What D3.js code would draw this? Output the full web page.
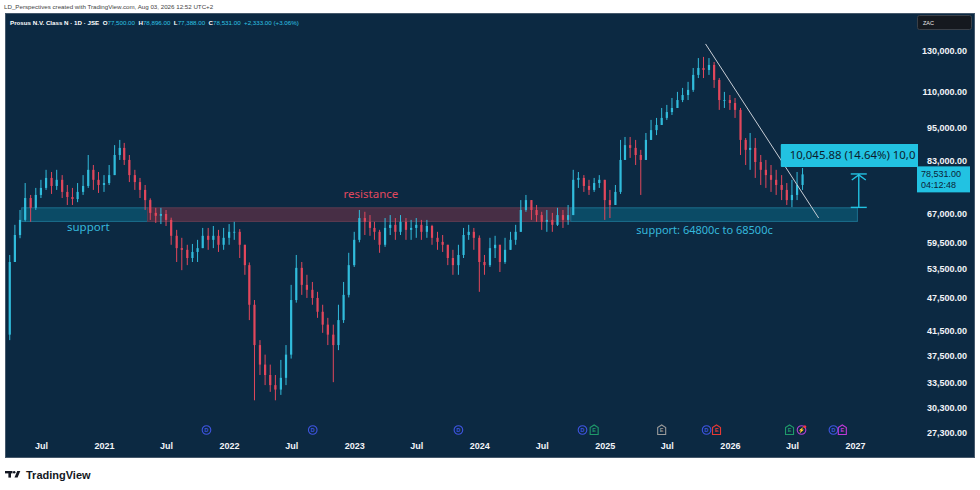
<!DOCTYPE html>
<html lang="en">
<head>
<meta charset="UTF-8">
<title>Prosus N.V. Class N - 1D - JSE</title>
<script src="https://d3js.org/d3.v7.min.js"></script>
<style>
  body { margin: 0; background: #ffffff; }
  svg { display: block; font-family: "Liberation Sans", Arial, sans-serif; }
</style>
</head>
<body>
<svg id="chart" width="980" height="490"></svg>
<script>
// half-month candles, prices in thousands of ZAc
const firstMonth = "2020-04";
const lastMonth = "2026-08";
const lastCandle = "2026-08-01";

const opens = [40.8, 54.9, 61.3, 65.2, 71.3, 68.5, 72.2, 74.3, 77.4, 74.9,
  76.8, 73.1, 71.6, 71.0, 73.1, 74.9, 80.0, 76.8, 75.2, 75.8,
  78.3, 85.0, 87.5, 83.3, 78.3, 76.1, 73.7, 70.7, 67.1, 66.3,
  66.8, 65.2, 61.1, 58.1, 57.7, 55.8, 57.2, 58.1, 61.1, 60.1,
  61.1, 58.9, 60.6, 62.1, 62.1, 58.9, 54.2, 46.1, 39.1, 36.1,
  34.6, 33.2, 32.6, 34.2, 37.6, 47.0, 53.6, 50.0, 49.0, 47.4,
  44.8, 42.5, 40.8, 39.1, 43.3, 48.0, 54.2, 60.1, 65.7, 64.7,
  63.1, 62.1, 58.9, 63.1, 63.9, 62.1, 64.7, 62.6, 63.1, 63.9,
  62.1, 63.6, 60.6, 59.6, 58.9, 55.8, 54.2, 56.5, 61.3, 62.1,
  60.6, 54.9, 54.2, 58.1, 58.9, 54.9, 57.7, 60.1, 62.1, 67.9,
  70.7, 67.9, 66.5, 64.7, 65.2, 63.9, 66.5, 65.2, 66.5, 76.8,
  77.4, 74.9, 73.7, 75.8, 76.8, 70.7, 69.3, 73.1, 83.3, 88.5,
  87.5, 85.0, 83.3, 90.4, 94.1, 96.1, 98.9, 101.3, 103.0, 106.4,
  108.6, 110.9, 117.9, 121.3, 120.3, 122.8, 115.5, 106.4, 106.4, 105.1,
  102.2, 90.4, 86.8, 87.5, 82.6, 80.0, 78.3, 76.8, 75.2, 73.7,
  70.7, 72.2, 75.2];

const highs = [56.5, 63.9, 67.9, 75.8, 72.2, 74.3, 76.8, 80.0, 79.3, 80.0,
  78.3, 75.2, 74.3, 75.8, 78.3, 85.0, 81.6, 79.3, 78.3, 81.6,
  88.5, 90.4, 89.3, 85.0, 80.0, 77.4, 75.2, 71.2, 68.5, 68.5,
  67.9, 65.8, 62.6, 60.6, 58.9, 59.1, 60.1, 63.1, 63.1, 63.6,
  62.6, 63.1, 64.1, 64.7, 62.8, 58.9, 54.8, 47.0, 39.9, 37.6,
  36.1, 34.6, 36.8, 39.1, 50.0, 56.5, 54.9, 52.1, 50.6, 48.6,
  46.1, 43.7, 42.5, 46.1, 50.6, 57.0, 62.1, 67.9, 67.4, 66.5,
  64.7, 62.6, 65.7, 66.5, 65.7, 66.5, 65.7, 65.2, 65.7, 65.2,
  65.2, 63.9, 62.1, 61.3, 58.9, 57.7, 58.9, 63.1, 63.9, 63.1,
  61.2, 56.5, 60.6, 61.1, 58.9, 60.6, 62.1, 63.9, 70.7, 72.2,
  70.7, 69.3, 67.4, 67.9, 67.1, 68.5, 67.9, 69.3, 80.0, 79.3,
  78.3, 76.8, 77.4, 78.3, 76.8, 73.7, 75.2, 90.4, 91.5, 91.5,
  90.4, 86.8, 93.0, 98.1, 98.9, 103.0, 104.3, 107.3, 110.0, 111.8,
  114.6, 121.3, 126.3, 126.9, 126.3, 124.3, 116.4, 110.0, 108.6, 107.3,
  103.0, 91.1, 93.0, 91.1, 85.0, 83.3, 81.6, 80.0, 78.3, 75.8,
  76.8, 79.3, 80.6];

const lows = [39.9, 54.9, 60.5, 64.8, 64.7, 67.9, 71.3, 73.7, 72.5, 73.7,
  71.3, 69.3, 69.3, 70.1, 72.2, 74.3, 73.7, 72.8, 73.1, 75.2,
  78.3, 83.3, 81.6, 76.1, 73.7, 71.3, 67.9, 65.2, 64.4, 64.1,
  63.6, 58.9, 54.9, 53.1, 54.2, 54.9, 54.9, 58.1, 57.7, 58.1,
  57.2, 57.7, 58.9, 60.1, 55.8, 52.1, 43.3, 31.2, 34.6, 33.2,
  32.3, 31.2, 31.9, 33.2, 37.0, 46.5, 48.0, 47.4, 46.1, 43.7,
  41.1, 39.1, 33.6, 38.3, 42.8, 47.5, 53.8, 59.5, 61.3, 61.1,
  60.1, 57.0, 58.4, 61.3, 60.1, 61.3, 60.1, 60.1, 60.6, 60.1,
  60.6, 58.9, 57.7, 57.2, 54.2, 52.1, 52.1, 55.8, 60.1, 57.7,
  48.6, 52.1, 53.8, 55.8, 52.7, 54.5, 57.7, 58.9, 62.1, 67.4,
  65.2, 64.7, 62.6, 62.1, 62.1, 63.6, 63.1, 63.9, 66.5, 74.3,
  73.1, 72.2, 73.1, 74.3, 65.2, 65.7, 69.3, 72.5, 83.3, 84.0,
  81.6, 72.2, 83.3, 90.4, 92.2, 96.1, 98.1, 100.1, 103.0, 105.5,
  106.4, 110.0, 116.4, 116.4, 117.9, 111.8, 102.2, 103.0, 102.2, 98.9,
  85.0, 81.6, 80.0, 77.4, 75.2, 74.3, 73.1, 72.2, 70.7, 69.3,
  68.7, 70.7, 73.7];

const closes = [54.9, 61.3, 65.2, 71.3, 68.5, 72.2, 74.3, 77.4, 74.9, 76.8,
  73.1, 71.6, 71.0, 73.1, 74.9, 80.0, 76.8, 75.2, 75.8, 78.3,
  85.0, 87.5, 83.3, 78.3, 76.1, 73.7, 70.7, 67.1, 66.3, 66.8,
  65.2, 61.1, 58.1, 57.7, 55.8, 57.2, 58.1, 61.1, 60.1, 61.1,
  58.9, 60.6, 62.1, 62.1, 58.9, 54.2, 46.1, 39.1, 36.1, 34.6,
  33.2, 32.6, 34.2, 37.6, 47.0, 53.6, 50.0, 49.0, 47.4, 44.8,
  42.5, 40.8, 39.1, 43.3, 48.0, 54.2, 60.1, 65.7, 64.7, 63.1,
  62.1, 58.9, 63.1, 63.9, 62.1, 64.7, 62.6, 63.1, 63.9, 62.1,
  63.6, 60.6, 59.6, 58.9, 55.8, 54.2, 56.5, 61.3, 62.1, 60.6,
  54.9, 54.2, 58.1, 58.9, 54.9, 57.7, 60.1, 62.1, 67.9, 70.7,
  67.9, 66.5, 64.7, 65.2, 63.9, 66.5, 65.2, 66.5, 76.8, 77.4,
  74.9, 73.7, 75.8, 76.8, 70.7, 69.3, 73.1, 83.3, 88.5, 87.5,
  85.0, 83.3, 90.4, 94.1, 96.1, 98.9, 101.3, 103.0, 106.4, 108.6,
  110.9, 117.9, 121.3, 120.3, 122.8, 115.5, 106.4, 106.4, 105.1, 102.2,
  90.4, 86.8, 87.5, 82.6, 80.0, 78.3, 76.8, 75.2, 73.7, 70.7,
  72.2, 75.2, 78.531];

const priceTicks = [130000, 110000, 95000, 83000, 67000, 59500, 53500, 47500, 41500, 37500, 33500, 30300, 27300];
const timeTicks = ["2020-07-01", "2021-01-01", "2021-07-01", "2022-01-01", "2022-07-01", "2023-01-01",
  "2023-07-01", "2024-01-01", "2024-07-01", "2025-01-01", "2025-07-01", "2026-01-01", "2026-07-01", "2027-01-01"];

// support / resistance band 64800c - 68500c
const zoneLow = 64800, zoneHigh = 68500;
const zoneEdges = ["2020-05-06", "2021-05-08", "2024-09-24", "2027-01-08"];
const zoneKinds = ["support", "resistance", "support"];

const trendDates = ["2025-10-22", "2026-09-17"];
const trendPrices = [133800, 65700];

const measureDate = "2027-01-12";
const measurePrices = [68620, 78666];
// the label runs past the plot edge, only this much of it is visible
const measureText = "10,045.88 (14.64%) 10,0";

const eventDates = ["2021-10-27", "2022-09-02", "2023-11-01", "2024-10-28", "2024-12-01", "2025-06-16",
  "2025-10-25", "2025-11-23", "2026-06-24", "2026-07-29", "2026-10-30", "2026-11-25"];
const eventKinds = ["D", "D", "D", "D", "E", "E", "D", "E", "E", "S", "D", "E"];
const eventColors = ["#3f55e0", "#3f55e0", "#3f55e0", "#3f55e0", "#1f9a6a", "#9a9a9a",
  "#3f55e0", "#e53935", "#1f9a6a", "#b23fd6", "#3f55e0", "#c03ad8"];

const header = [
  ["Prosus N.V. Class N · 1D · JSE  ", "#ffffff"], ["O", "#ffffff"], ["77,500.00  ", "#2ec4e4"],
  ["H", "#ffffff"], ["78,896.00  ", "#2ec4e4"], ["L", "#ffffff"], ["77,388.00  ", "#2ec4e4"],
  ["C", "#ffffff"], ["78,531.00  ", "#2ec4e4"], ["+2,333.00 (+3.06%)", "#2ec4e4"]
];

const parse = d3.utcParse("%Y-%m-%d");
const parseMonth = d3.utcParse("%Y-%m");

const dates = [];
d3.utcMonth.range(parseMonth(firstMonth), parseMonth(lastMonth)).forEach(m => {
  dates.push(m, d3.utcDay.offset(m, 15));
});
dates.push(parse(lastCandle));

const candles = dates.map((d, i) => ({
  date: d, o: opens[i] * 1000, h: highs[i] * 1000, l: lows[i] * 1000, c: closes[i] * 1000
}));

const bg = "#0c2942";
const up = "#31bcdc";
const down = "#e2475c";
const cyan = "#22c2e2";

const svg = d3.select("#chart");

const x = d3.scaleUtc()
  .domain([parse("2021-01-01"), parse("2027-01-01")])
  .range([104, 855]);
const y = d3.scaleLog()
  .domain([130000, 27300])
  .range([51, 433]);

// top watermark line
svg.append("text")
  .attr("x", 4).attr("y", 9)
  .attr("font-size", 6.2)
  .attr("fill", "#444")
  .text("LD_Perspectives created with TradingView.com, Aug 03, 2026 12:52 UTC+2");

// chart panel
svg.append("rect")
  .attr("x", 5.5).attr("y", 13.5)
  .attr("width", 969).attr("height", 444)
  .attr("fill", bg)
  .attr("stroke", "#45586b");

svg.append("clipPath").attr("id", "plotClip")
  .append("rect").attr("x", 6).attr("y", 14).attr("width", 912).attr("height", 443);

const plot = svg.append("g").attr("clip-path", "url(#plotClip)");

// zones
const zoneData = zoneKinds.map((k, i) => ({ kind: k, x0: parse(zoneEdges[i]), x1: parse(zoneEdges[i + 1]) }));
plot.selectAll("rect.zone")
  .data(zoneData)
  .join("rect")
  .attr("class", "zone")
  .attr("x", d => x(d.x0))
  .attr("width", d => x(d.x1) - x(d.x0))
  .attr("y", y(zoneHigh))
  .attr("height", y(zoneLow) - y(zoneHigh))
  .attr("fill", d => d.kind === "support" ? "#0b4b66" : "#472e45")
  .attr("stroke", d => d.kind === "support" ? "#1c6f8d" : "#5e3b51")
  .attr("stroke-width", 1);

// candles
const cg = plot.append("g");
cg.selectAll("line.wick")
  .data(candles)
  .join("line")
  .attr("class", "wick")
  .attr("x1", d => x(d.date)).attr("x2", d => x(d.date))
  .attr("y1", d => y(d.h)).attr("y2", d => y(d.l))
  .attr("stroke", d => d.c >= d.o ? up : down)
  .attr("stroke-width", 1);

cg.selectAll("rect.body")
  .data(candles)
  .join("rect")
  .attr("class", "body")
  .attr("x", d => x(d.date) - 1.1)
  .attr("width", 2.2)
  .attr("y", d => y(Math.max(d.o, d.c)))
  .attr("height", d => Math.max(0.8, Math.abs(y(d.o) - y(d.c))))
  .attr("fill", d => d.c >= d.o ? up : down);

// zone labels
plot.append("text")
  .attr("x", x(parse("2020-09-15"))).attr("y", y(zoneLow) + 10)
  .attr("font-family", "Noto Sans, sans-serif")
  .attr("font-size", 11.5).attr("fill", "#35b8dc")
  .text("support");
plot.append("text")
  .attr("x", x(parse("2022-12-01"))).attr("y", y(zoneHigh) - 10)
  .attr("font-family", "Noto Sans, sans-serif")
  .attr("font-size", 11.5).attr("fill", "#e2485f")
  .text("resistance");
plot.append("text")
  .attr("x", x(parse("2025-04-03"))).attr("y", y(zoneLow) + 13)
  .attr("font-family", "Noto Sans, sans-serif")
  .attr("font-size", 11).attr("fill", "#35b8dc")
  .text("support: 64800c to 68500c");

// trend line
plot.append("line")
  .attr("x1", x(parse(trendDates[0]))).attr("y1", y(trendPrices[0]))
  .attr("x2", x(parse(trendDates[1]))).attr("y2", y(trendPrices[1]))
  .attr("stroke", "#c9ced6").attr("stroke-width", 1);

// price range measurement
const mx = x(parse(measureDate));
const my0 = y(measurePrices[0]), my1 = y(measurePrices[1]);
const mg = plot.append("g").attr("stroke", cyan).attr("stroke-width", 1.4).attr("fill", "none");
mg.append("line").attr("x1", mx).attr("x2", mx).attr("y1", my0).attr("y2", my1);
mg.append("line").attr("x1", mx - 8).attr("x2", mx + 8).attr("y1", my0).attr("y2", my0);
mg.append("line").attr("x1", mx - 8).attr("x2", mx + 8).attr("y1", my1).attr("y2", my1);
mg.append("path").attr("d", `M${mx - 7},${my1 + 6}L${mx},${my1 + 1}L${mx + 7},${my1 + 6}`);

plot.append("rect")
  .attr("x", mx - 78).attr("y", my1 - 30)
  .attr("width", 160).attr("height", 23)
  .attr("rx", 1)
  .attr("fill", cyan);
plot.append("text")
  .attr("x", mx - 69).attr("y", my1 - 14.5)
  .attr("font-family", "Noto Sans, sans-serif")
  .attr("font-size", 11.4).attr("fill", "#0b1c2c")
  .text(measureText);

// header line inside the panel
const ht = svg.append("text")
  .attr("x", 10).attr("y", 25)
  .attr("font-size", 6.2)
  .attr("style", "white-space: pre");
ht.selectAll("tspan")
  .data(header)
  .join("tspan")
  .attr("fill", d => d[1])
  .attr("font-weight", d => d[1] === "#ffffff" ? "bold" : "normal")
  .text(d => d[0]);

// currency box
svg.append("rect")
  .attr("x", 917.5).attr("y", 15.5).attr("width", 54).attr("height", 14).attr("rx", 2)
  .attr("fill", "#15191f").attr("stroke", "#3a4048");
svg.append("text")
  .attr("x", 923).attr("y", 25).attr("font-size", 5.5).attr("fill", "#e8e8e8")
  .text("ZAC");

// price axis
const yAxis = d3.axisLeft(y)
  .tickValues(priceTicks)
  .tickFormat(d3.format(",.2f"))
  .tickSize(0).tickPadding(0);
const ya = svg.append("g").attr("transform", "translate(967,0)").call(yAxis);
ya.select(".domain").remove();
ya.selectAll("text")
  .attr("fill", "#f2f4f8")
  .attr("font-size", 9)
  .attr("font-weight", "bold")
  .attr("font-family", "Liberation Sans, Arial, sans-serif");

// last price label
const lastC = candles[candles.length - 1].c;
svg.append("rect")
  .attr("x", 917).attr("y", y(lastC) - 8).attr("width", 53).attr("height", 26)
  .attr("fill", cyan);
svg.append("text")
  .attr("x", 921).attr("y", y(lastC) + 2.5)
  .attr("font-size", 9).attr("fill", "#0b2238")
  .text(d3.format(",.2f")(lastC));
svg.append("text")
  .attr("x", 921).attr("y", y(lastC) + 14)
  .attr("font-size", 9).attr("fill", "#0b2238")
  .text("04:12:48");

// time axis
const xAxis = d3.axisBottom(x)
  .tickValues(timeTicks.map(parse))
  .tickFormat(d => d.getUTCMonth() === 0 ? d3.utcFormat("%Y")(d) : d3.utcFormat("%b")(d))
  .tickSize(0).tickPadding(0);
const xa = svg.append("g").attr("transform", "translate(0,443)").call(xAxis);
xa.select(".domain").remove();
xa.selectAll("text")
  .attr("fill", "#f2f4f8")
  .attr("font-size", 9)
  .attr("font-weight", "bold")
  .attr("font-family", "Liberation Sans, Arial, sans-serif");

// events strip
const ev = svg.append("g")
  .selectAll("g")
  .data(eventDates.map((d, i) => ({ date: parse(d), kind: eventKinds[i], color: eventColors[i] })))
  .join("g")
  .attr("transform", d => `translate(${x(d.date)},430)`);
ev.filter(d => d.kind === "D").append("circle")
  .attr("r", 4.3).attr("fill", bg).attr("stroke", d => d.color).attr("stroke-width", 1.1);
ev.filter(d => d.kind === "E").append("path")
  .attr("d", "M-4,-2.5L0,-5L4,-2.5L4,4.5L-4,4.5Z")
  .attr("fill", bg).attr("stroke", d => d.color).attr("stroke-width", 1.1);
ev.filter(d => d.kind === "S").append("circle")
  .attr("r", 4.3).attr("fill", bg).attr("stroke", d => d.color).attr("stroke-width", 1.1);
ev.filter(d => d.kind === "S").append("circle")
  .attr("cx", 3.3).attr("cy", -3.3).attr("r", 1.5).attr("fill", "#f23645");
ev.append("text")
  .attr("text-anchor", "middle").attr("y", 2.2)
  .attr("font-size", 5.5).attr("font-weight", "bold")
  .attr("fill", d => d.color)
  .text(d => d.kind === "S" ? "⚡" : d.kind);

// TradingView footer
const logo = svg.append("g").attr("fill", "#131722");
logo.append("rect").attr("x", 5).attr("y", 471).attr("width", 7.5).attr("height", 2.4);
logo.append("rect").attr("x", 8.4).attr("y", 471).attr("width", 2.6).attr("height", 6.6);
logo.append("circle").attr("cx", 14.2).attr("cy", 472.2).attr("r", 1.25);
logo.append("path").attr("d", "M17.2,471L20.3,471L17.6,477.6L14.5,477.6Z");
svg.append("text")
  .attr("x", 26).attr("y", 478.5)
  .attr("font-size", 11).attr("font-weight", "bold")
  .attr("fill", "#131722")
  .text("TradingView");
</script>
</body>
</html>
